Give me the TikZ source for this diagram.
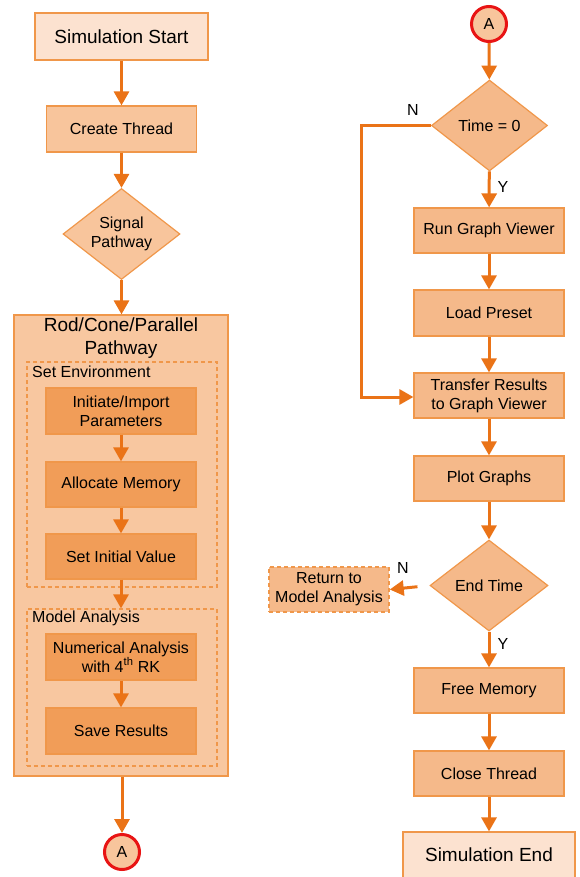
\documentclass[tikz,border=0pt]{standalone}
\usepackage{fontspec}
\setmainfont{Liberation Sans}
\usetikzlibrary{shapes.geometric,arrows.meta}
\definecolor{bord}{HTML}{F0974A}
\definecolor{arr}{HTML}{EA7317}
\definecolor{startfill}{HTML}{FCE2D0}
\definecolor{lightfill}{HTML}{F8C59C}
\definecolor{rightfill}{HTML}{F5B98A}
\definecolor{bigfill}{HTML}{F8C7A0}
\definecolor{innerfill}{HTML}{F19D58}
\definecolor{ringred}{HTML}{E81414}
\tikzset{
  txt/.style={font=\fontsize{16bp}{19bp}\selectfont, text=black, align=center},
  procbox/.style={txt, draw=bord, line width=1.2bp, rectangle, inner sep=0pt,
    minimum width=150bp, minimum height=45bp},
  endbox/.style={procbox, fill=startfill, minimum width=173bp, minimum height=47bp,
    font=\fontsize{19bp}{23bp}\selectfont},
  decision/.style={txt, draw=bord, line width=1.2bp, diamond, aspect=1.3, inner sep=0pt,
    minimum width=117bp, minimum height=91bp},
  dashbox/.style={draw=bord, line width=1.2bp, dash pattern=on 4bp off 3bp, rectangle, inner sep=0pt},
  connector/.style={txt, circle, draw=ringred, line width=3bp, fill=lightfill,
    minimum size=35bp, inner sep=0pt},
  flow/.style={draw=arr, line width=3bp, -{Triangle[width=15bp,length=14bp]}},
  yn/.style={txt, inner sep=0pt},
}
\begin{document}
\begin{tikzpicture}[x=1bp,y=-1bp]
\useasboundingbox (0,0) rectangle (580,877);
\clip (0,0) rectangle (580,877);
% ---------- left column ----------
\node[endbox] (start) at (121.5,36.5) {Simulation Start};
\node[procbox, fill=lightfill, minimum height=46bp] (create) at (121.5,129) {Create Thread};
\node[decision, fill=lightfill] (signal) at (121.5,234) {Signal\\Pathway};
\node[draw=bord, line width=1.2bp, fill=bigfill, rectangle, inner sep=0pt,
  minimum width=214bp, minimum height=461bp] (big) at (121,545.5) {};
\node[txt, font=\fontsize{19bp}{23bp}\selectfont, inner sep=0pt] (bigtitle) at (121,338.5) {Rod/Cone/Parallel\\Pathway};
\node[dashbox, minimum width=190bp, minimum height=225bp] (setenv) at (122,474.5) {};
\node[txt, anchor=west, inner sep=0pt] (setenvlbl) at (32,372) {Set Environment};
\node[procbox, fill=innerfill, minimum height=46bp] (init) at (121,411) {Initiate/Import\\Parameters};
\node[procbox, fill=innerfill] (alloc) at (121,484.5) {Allocate Memory};
\node[procbox, fill=innerfill] (setinit) at (121,556.5) {Set Initial Value};
\node[dashbox, minimum width=190bp, minimum height=157bp] (model) at (122,687.5) {};
\node[txt, anchor=west, inner sep=0pt] (modellbl) at (32,618) {Model Analysis};
\node[procbox, fill=innerfill, minimum height=46bp] (numer) at (121,657) {Numerical Analysis\\with 4\textsuperscript{th} RK};
\node[procbox, fill=innerfill, minimum height=46bp] (save) at (121,731) {Save Results};
\node[connector] (aleft) at (122,852) {A};
\draw[flow] (start) -- (create);
\draw[flow] (create) -- (signal);
\draw[flow] (signal) -- (big.north -| signal.south);
\draw[flow] (init) -- (alloc);
\draw[flow] (alloc) -- (setinit);
\draw[flow] (setinit) -- (model.north -| setinit.south);
\draw[flow] (numer) -- (save);
\draw[flow] (big.south -| aleft.north) -- (aleft);
% ---------- right column ----------
\node[connector] (aright) at (489,24) {A};
\node[decision, fill=rightfill, minimum width=116bp] (time) at (489.5,125.5) {Time = 0};
\node[procbox, fill=rightfill] (rungv) at (489,230.5) {Run Graph Viewer};
\node[procbox, fill=rightfill, minimum height=46bp] (load) at (489,313) {Load Preset};
\node[procbox, fill=rightfill] (transfer) at (489,395.5) {Transfer Results\\to Graph Viewer};
\node[procbox, fill=rightfill] (plot) at (489,478.5) {Plot Graphs};
\node[decision, fill=rightfill, minimum width=118bp] (endt) at (489,585.5) {End Time};
\node[procbox, fill=rightfill, dash pattern=on 4bp off 3bp, line width=1.5bp,
  minimum width=120bp] (ret) at (329,589.5) {Return to\\Model Analysis};
\node[procbox, fill=rightfill] (free) at (489,690.5) {Free Memory};
\node[procbox, fill=rightfill] (close) at (489,773.5) {Close Thread};
\node[endbox, minimum width=172bp, minimum height=46bp] (simend) at (489,855) {Simulation End};
\coordinate (loopa) at (361,125.5);
\coordinate (loopb) at (361,397);
\draw[flow] (aright) -- (time);
\draw[flow] (time) -- (rungv);
\draw[flow] (rungv) -- (load);
\draw[flow] (load) -- (transfer);
\draw[flow] (time.west) -- (loopa) -- (loopb) -- (transfer.west |- loopb);
\draw[flow] (transfer) -- (plot);
\draw[flow] (plot) -- (endt);
\draw[flow, shorten <=12bp] (endt.west) -- (ret.east);
\draw[flow] (endt) -- (free);
\draw[flow] (free) -- (close);
\draw[flow] (close) -- (simend);
\node[yn] (n1) at (413,110) {N};
\node[yn] (y1) at (503,187) {Y};
\node[yn] (n2) at (403,568) {N};
\node[yn] (y2) at (503,644) {Y};
\end{tikzpicture}
\end{document}
